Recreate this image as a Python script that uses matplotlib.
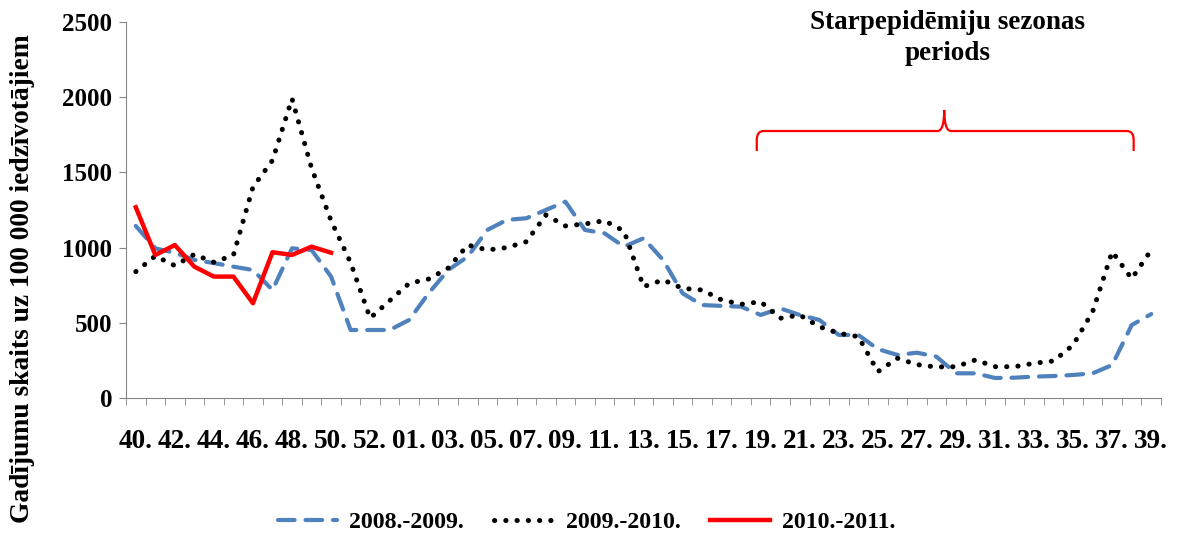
import matplotlib
matplotlib.use("Agg")
import matplotlib.pyplot as plt
from matplotlib.path import Path
from matplotlib.patches import PathPatch
import numpy as np

# nedēļas: 40.-53. un 01.-39.
weeks = [f"{w:02d}." for w in list(range(40, 54)) + list(range(1, 40))]

s_0809 = [1144, 995, 965, 918, 897, 873, 851, 718, 995, 984, 807, 452, 452, 452,
          519, 697, 851, 940, 1117, 1184, 1195, 1250, 1305, 1117, 1095, 1006, 1062,
          918, 696, 618, 612, 607, 552, 596, 552, 519, 419, 419, 325, 286, 301, 275,
          164, 164, 133, 135, 142, 146, 153, 164, 219, 485, 558]
s_0910 = [840, 944, 880, 955, 902, 950, 1403, 1580, 1990, 1529, 1179, 900, 531, 647,
          762, 791, 864, 1017, 984, 1000, 1039, 1217, 1144, 1157, 1179, 1110, 740,
          785, 729, 718, 652, 623, 640, 530, 552, 474, 430, 408, 175, 264, 222, 206,
          208, 253, 208, 208, 231, 246, 352, 574, 973, 793, 984]
s_1011 = [1268, 951, 1017, 873, 807, 807, 630, 969, 951, 1006, 966]
labels = ['2008.-2009.', '2009.-2010.', '2010.-2011.']

plt.rcParams['font.family'] = ['Liberation Serif', 'DejaVu Serif']
plt.rcParams['font.weight'] = 'bold'

fig = plt.figure(figsize=(11.8, 5.36), dpi=100)
ax = fig.add_axes([0.1068, 0.2575, 0.8771, 0.7015])

x = np.arange(len(weeks))
ax.plot(x[:len(s_0809)], s_0809, color='#4F81BD', lw=3.0, dashes=(4.0, 2.6),
        dash_capstyle='round', label=labels[0])
ax.plot(x[:len(s_0910)], s_0910, color='black', lw=3.6, dashes=(0.05, 2.2),
        dash_capstyle='round', label=labels[1])
ax.plot(x[:len(s_1011)], s_1011, color='#FF0000', lw=3.2, label=labels[2])

ax.set_xlim(-0.5, len(weeks) - 0.5)
ax.set_ylim(0, 2500)
ax.set_yticks(range(0, 2501, 500))
ax.set_xticks(x[::2])
ax.set_xticklabels(weeks[::2], fontsize=19.5, fontweight='bold')
ax.set_xticks(np.arange(-0.5, len(weeks), 1), minor=True)
ax.tick_params(axis='x', which='major', length=0, pad=22)
ax.tick_params(axis='x', which='minor', length=5, color='#868686')
ax.tick_params(axis='y', length=5, color='#868686', pad=5, labelsize=18)
for lab in ax.get_yticklabels():
    lab.set_fontweight('bold')
for side in ['top', 'right']:
    ax.spines[side].set_visible(False)
for side in ['left', 'bottom']:
    ax.spines[side].set_color('#868686')

fig.text(0.019, 0.48, 'Gadījumu skaits uz 100 000 iedzīvotājiem', rotation=90,
         ha='center', va='center', fontsize=19.8, fontweight='bold')

# iekava virs starpepidēmiju perioda
x0, xm, x1 = 31.8, 41.4, 51.1
ye, yh, yt = 1642, 1775, 1915
rx, ry = 0.35, 60
verts = [(x0, ye), (x0, yh - ry), (x0, yh), (x0 + rx, yh), (xm - rx, yh),
         (xm, yh), (xm, yt), (xm, yh), (xm + rx, yh), (x1 - rx, yh),
         (x1, yh), (x1, yh - ry), (x1, ye)]
codes = [Path.MOVETO, Path.LINETO, Path.CURVE3, Path.CURVE3, Path.LINETO,
         Path.CURVE3, Path.CURVE3, Path.CURVE3, Path.CURVE3, Path.LINETO,
         Path.CURVE3, Path.CURVE3, Path.LINETO]
ax.add_patch(PathPatch(Path(verts, codes), fill=False, edgecolor='#FF0000', lw=1.6,
                       clip_on=False))

fig.text(0.803, 0.929, 'Starpepidēmiju sezonas\nperiods', ha='center', va='center',
         fontsize=19.5, fontweight='bold', linespacing=1.3)

fig.legend(loc='center', bbox_to_anchor=(0.497, 0.026), ncol=3, frameon=False,
           prop={'size': 17.2, 'weight': 'bold'}, handlelength=2.5,
           handletextpad=0.5, columnspacing=1.25)

fig.savefig('out.png', dpi=100)
